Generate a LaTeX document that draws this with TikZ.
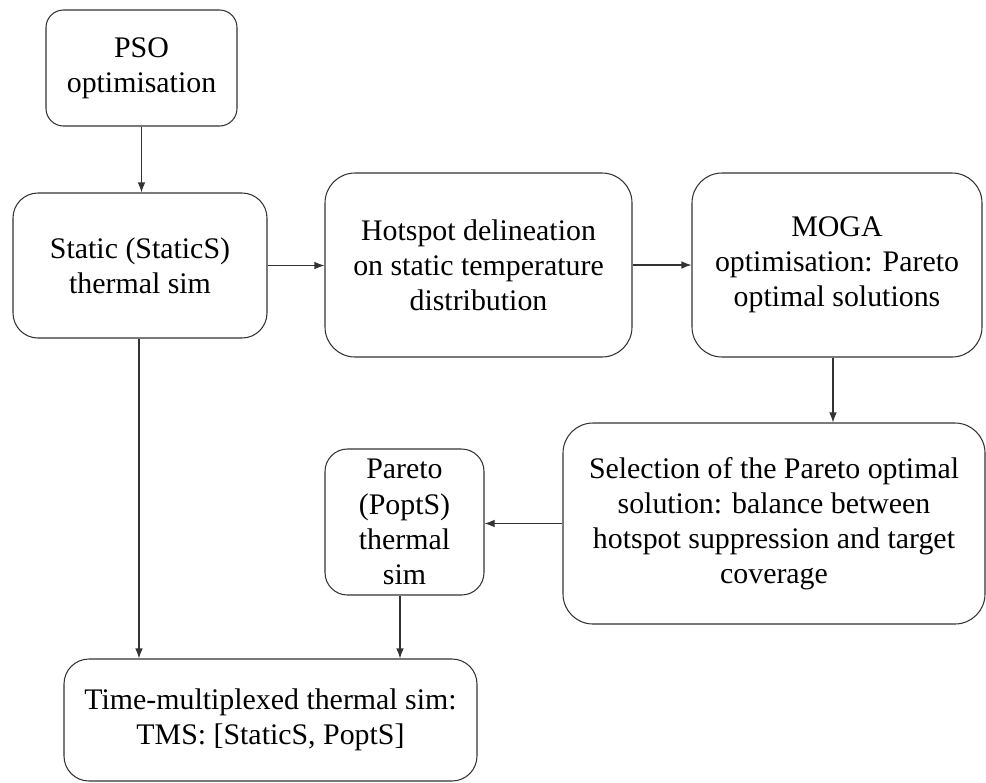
\documentclass[tikz,border=0pt]{standalone}
\usepackage{fontspec}
\setmainfont{Liberation Serif}
\usetikzlibrary{arrows.meta}
\begin{document}
\begin{tikzpicture}[>={Latex[length=2mm,width=1.5mm]},
  etape/.style={draw=black!80,line width=0.6pt,rounded corners=0.5cm,align=center,
    font=\fontsize{17}{20}\selectfont,inner sep=0pt},
  fleche/.style={->,line width=0.6pt,draw=black!80}]
\useasboundingbox (0,0) rectangle (19.72,-15.64);

\node [etape,minimum width=3.82cm,minimum height=2.32cm,rounded corners=0.35cm] (pso) at (2.83,-1.36) {PSO\\optimisation};
\node [etape,minimum width=5.08cm,minimum height=2.90cm] (static) at (2.80,-5.31) {Static (StaticS)\\thermal sim};
\node [etape,minimum width=6.14cm,minimum height=3.68cm,rounded corners=0.6cm] (hot) at (9.57,-5.30) {Hotspot delineation\\on static temperature\\distribution};
\node [etape,minimum width=5.80cm,minimum height=3.68cm,rounded corners=0.6cm] (moga) at (16.74,-5.30) {MOGA\\optimisation: Pareto\\optimal solutions};
\node [etape,minimum width=8.44cm,minimum height=4.02cm,rounded corners=0.6cm] (sel) at (15.48,-10.47) {Selection of the Pareto optimal\\solution: balance between\\hotspot suppression and target\\coverage};
\node [etape,minimum width=3.18cm,minimum height=2.92cm,rounded corners=0.45cm] (pareto) at (8.09,-10.44) {Pareto\\(PoptS)\\thermal\\sim};
\node [etape,minimum width=8.26cm,minimum height=2.44cm] (tms) at (5.41,-14.40) {Time-multiplexed thermal sim:\\TMS: [StaticS, PoptS]};

%les fleches
\draw [fleche] (pso.south) -- (pso.south |- static.north);
\draw [fleche] (static.east) -- (static.east -| hot.west);
\draw [fleche] (hot.east) -- (hot.east -| moga.west);
\draw [fleche] ([xshift=-0.08cm]moga.south) -- ([xshift=-0.08cm]moga.south |- sel.north);
\draw [fleche] (sel.west) -- (sel.west -| pareto.east);
\draw [fleche] ([xshift=-0.02cm]static.south) -- ([xshift=-0.02cm]static.south |- tms.north);
\draw [fleche] ([xshift=-0.09cm]pareto.south) -- ([xshift=-0.09cm]pareto.south |- tms.north);

\end{tikzpicture}
\end{document}
